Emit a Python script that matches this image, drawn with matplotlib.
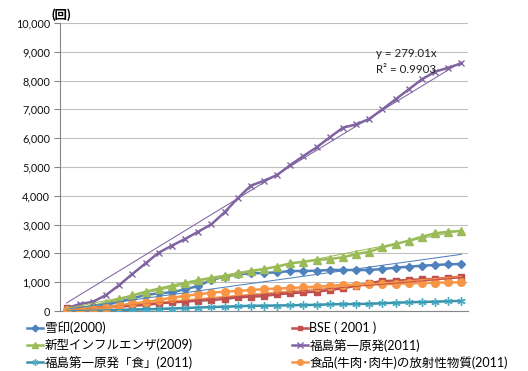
import numpy as np
import matplotlib
matplotlib.use("Agg")
import matplotlib.pyplot as plt
from matplotlib.lines import Line2D
from matplotlib.ticker import FuncFormatter

plt.rcParams['font.family'] = ['Lato', 'Noto Sans CJK JP', 'DejaVu Sans']

# ---- data -----------------------------------------------------------------
labels = [
    "雪印(2000)",
    "BSE ( 2001 )",
    "新型インフルエンザ(2009)",
    "福島第一原発(2011)",
    "福島第一原発「食」(2011)",
    "食品(牛肉･肉牛)の放射性物質(2011)",
]

yukijirushi = [50, 90, 130, 210, 320, 440, 555, 615, 650, 753, 868, 1076, 1192, 1270, 1308,
               1320, 1343, 1389, 1389, 1400, 1424, 1424, 1424, 1424, 1458, 1505, 1538, 1573,
               1597, 1621, 1632]
bse = [120, 80, 93, 116, 150, 185, 208, 266, 301, 324, 359, 382, 417, 475, 497,
       521, 580, 615, 649, 670, 729, 788, 878, 962, 1042, 1052, 1076, 1101, 1111, 1156, 1191]
influenza = [40, 100, 170, 290, 410, 540, 670, 775, 875, 970, 1070, 1150, 1220, 1308, 1395,
             1460, 1545, 1656, 1712, 1771, 1806, 1865, 1979, 2059, 2212, 2326, 2441, 2580,
             2698, 2753, 2778]
fukushima = [100, 240, 320, 555, 900, 1285, 1655, 2025, 2270, 2500, 2755, 3010, 3425, 3913,
             4351, 4524, 4722, 5069, 5382, 5684, 6031, 6365, 6483, 6667, 7003, 7351, 7698,
             8045, 8309, 8448, 8601]
fukushima_food = [0, 5, 10, 20, 30, 45, 55, 70, 85, 100, 120, 135, 150, 165, 180, 185, 190,
                  198, 208, 212, 233, 238, 243, 250, 267, 288, 302, 313, 323, 340, 350]
beef = [20, 30, 60, 95, 185, 266, 301, 380, 463, 521, 580, 636, 670, 694, 729, 760, 780,
        800, 823, 844, 878, 903, 910, 927, 930, 940, 962, 975, 983, 990, 995]

series = [yukijirushi, bse, influenza, fukushima, fukushima_food, beef]

# linear trend (through origin) for 福島第一原発
fukushima_slope = 279.01
fukushima_r2 = 0.9903

colors = ['#4F81BD', '#C0504D', '#9BBB59', '#8064A2', '#4BACC6', '#F79646']
line_colors = ['#4F81BD', '#C0504D', '#9BBB59', '#8064A2', '#3A93AA', '#F79646']
markers = ['D', 's', '^', 'x', (6, 2, 0), 'o']
msizes = [4.5, 4.5, 5.5, 5, 6, 5.5]

# ---- figure -----------------------------------------------------------------
W, H = 528, 371
fig = plt.figure(figsize=(W / 100, H / 100), dpi=100)
ax = fig.add_axes([60 / W, 60 / H, 408 / W, 288 / H])

n = len(yukijirushi)
xpos = np.arange(n)
xexcel = xpos + 1

for k, (vals, c, lc, m, ms) in enumerate(zip(series, colors, line_colors, markers, msizes)):
    vals = np.asarray(vals, dtype=float)
    ax.plot(xpos, vals, color=lc, lw=1.8, marker=m, ms=ms,
            mfc=c, mec=c, mew=1.0, zorder=3 + k * 0.1)
    if k == 3:
        slope = fukushima_slope
    else:
        slope = np.sum(xexcel * vals) / np.sum(xexcel ** 2)
    ax.plot(xpos, slope * xexcel, color=lc, lw=0.75, zorder=4)

ax.text(23.5, 8930, f"y = {fukushima_slope:.2f}x", fontsize=8.3, color='#1f1f1f',
        ha='left', va='center', zorder=6)
ax.text(23.5, 8370, f"R² = {fukushima_r2:.4f}", fontsize=8.3, color='#1f1f1f',
        ha='left', va='center', zorder=6)

ax.set_xlim(-0.5, n - 0.5)
ax.set_ylim(0, 10000)
ax.set_yticks(np.arange(0, 10001, 1000))
ax.yaxis.set_major_formatter(FuncFormatter(lambda v, p: f"{v:,.0f}"))
ax.set_xticks([])
ax.tick_params(axis='y', length=4, width=0.8, color='#868686', labelsize=7.8,
               labelcolor='#111111', pad=3)
ax.grid(axis='y', color='#BFBFBF', lw=0.8)
ax.set_axisbelow(True)
for s in ['top', 'right']:
    ax.spines[s].set_visible(False)
for s in ['left', 'bottom']:
    ax.spines[s].set_color('#868686')
    ax.spines[s].set_linewidth(0.8)

fig.text(51 / W, 1 - 15 / H, "(回)", fontsize=9, fontweight='bold',
         ha='left', va='center')

# ---- legend (two columns, row-major) ----------------------------------------
def legend_handle(k):
    return Line2D([], [], color=line_colors[k], lw=1.8, marker=markers[k],
                  ms=msizes[k] * 0.75, mfc=colors[k], mec=colors[k])

common = dict(frameon=False, fontsize=9, handlelength=1.28, handletextpad=0.15,
              labelspacing=0.36, borderpad=0, borderaxespad=0, loc='upper left')
fig.legend([legend_handle(k) for k in (0, 2, 4)], [labels[k] for k in (0, 2, 4)],
           bbox_to_anchor=(27 / W, 1 - 321.5 / H), **common)
fig.legend([legend_handle(k) for k in (1, 3, 5)], [labels[k] for k in (1, 3, 5)],
           bbox_to_anchor=(291.5 / W, 1 - 321.5 / H), **common)

fig.savefig("out.png", dpi=100)
